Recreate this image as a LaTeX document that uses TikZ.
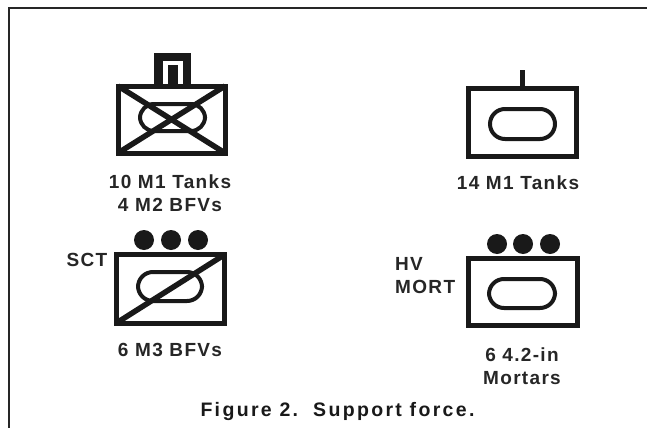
\documentclass[tikz,border=0pt]{standalone}
\usepackage{fontspec}
\setmainfont{Liberation Sans}[BoldFont={Liberation Sans Bold}]
\tikzset{
  frameline/.style={draw=black!85,line width=2.2pt},
  unitbox/.style={draw=black!90,line width=5pt,line join=miter},
  hullshape/.style={draw=black!90,line width=4pt,rounded corners=15pt},
  crossline/.style={draw=black!90,line width=5.5pt},
  dotmark/.style={circle,fill=black!90,minimum size=20pt,inner sep=0pt},
  lab/.style={font=\fontsize{19}{21}\bfseries\addfontfeatures{LetterSpace=7},text=black!85,inner sep=0pt},
  caplab/.style={font=\fontsize{19.5}{21}\bfseries\addfontfeatures{LetterSpace=12},text=black!90,inner sep=0pt}
}
\begin{document}
\begin{tikzpicture}[x=1pt,y=-1pt]
\useasboundingbox (0,0) rectangle (647,428);
\fill[white] (0,0) rectangle (647,428);
\coordinate (ftop) at (647,8);
\coordinate (fcor) at (9,8);
\coordinate (fbot) at (9,428);
\draw[frameline] (ftop) -- (fcor) -- (fbot);
% unit 1
\coordinate (a1) at (118,86); \coordinate (a2) at (225,153);
\draw[unitbox] (a1) rectangle (a2);
\draw[hullshape,rounded corners=14pt] (140,104) rectangle (205,131);
\draw[crossline] (a1) -- (a2);
\draw[crossline] (225,86) -- (118,153);
\fill[black!90] (154,53) rectangle (191,84);
\fill[white] (163,61) rectangle (183,84);
\fill[black!90] (168,65) rectangle (178,84);
% unit 2
\coordinate (b1) at (468.5,88); \coordinate (b2) at (576,156);
\draw[unitbox] (b1) rectangle (b2);
\draw[hullshape] (490,109) rectangle (555,139);
\coordinate (b3) at (522.5,70); \coordinate (b4) at (522.5,86);
\draw[crossline] (b3) -- (b4);
% unit 3
\coordinate (c1) at (116.5,254.5); \coordinate (c2) at (224,323.5);
\draw[unitbox] (c1) rectangle (c2);
\draw[hullshape] (138,272) rectangle (202,301);
\draw[crossline] (118,322) -- (224,255);
\node[dotmark] (c3) at (144,240) {};
\node[dotmark] (c4) at (171,240) {};
\node[dotmark] (c5) at (198,240) {};
% unit 4
\coordinate (d1) at (468.5,258.5); \coordinate (d2) at (577.5,325.5);
\draw[unitbox] (d1) rectangle (d2);
\draw[hullshape] (489,279) rectangle (555,308);
\node[dotmark] (d3) at (497,244) {};
\node[dotmark] (d4) at (523,244) {};
\node[dotmark] (d5) at (550,244) {};
% labels
\node[lab] (t1) at (170,182) {10 M1 Tanks};
\node[lab] (t2) at (170,205) {4 M2 BFVs};
\node[lab] (t3) at (518,183) {14 M1 Tanks};
\node[lab] (t4) at (170,350) {6 M3 BFVs};
\node[lab] (t5) at (87,260) {SCT};
\node[lab,anchor=west] (t6) at (395,264) {HV};
\node[lab,anchor=west] (t7) at (395,287) {MORT};
\node[lab] (t8) at (522,355) {6 4.2-in};
\node[lab] (t9) at (522,378) {Mortars};
\node[caplab] (t10) at (337.5,411) {Figure 2.\hspace{15pt}Support force.};
\end{tikzpicture}
\end{document}
